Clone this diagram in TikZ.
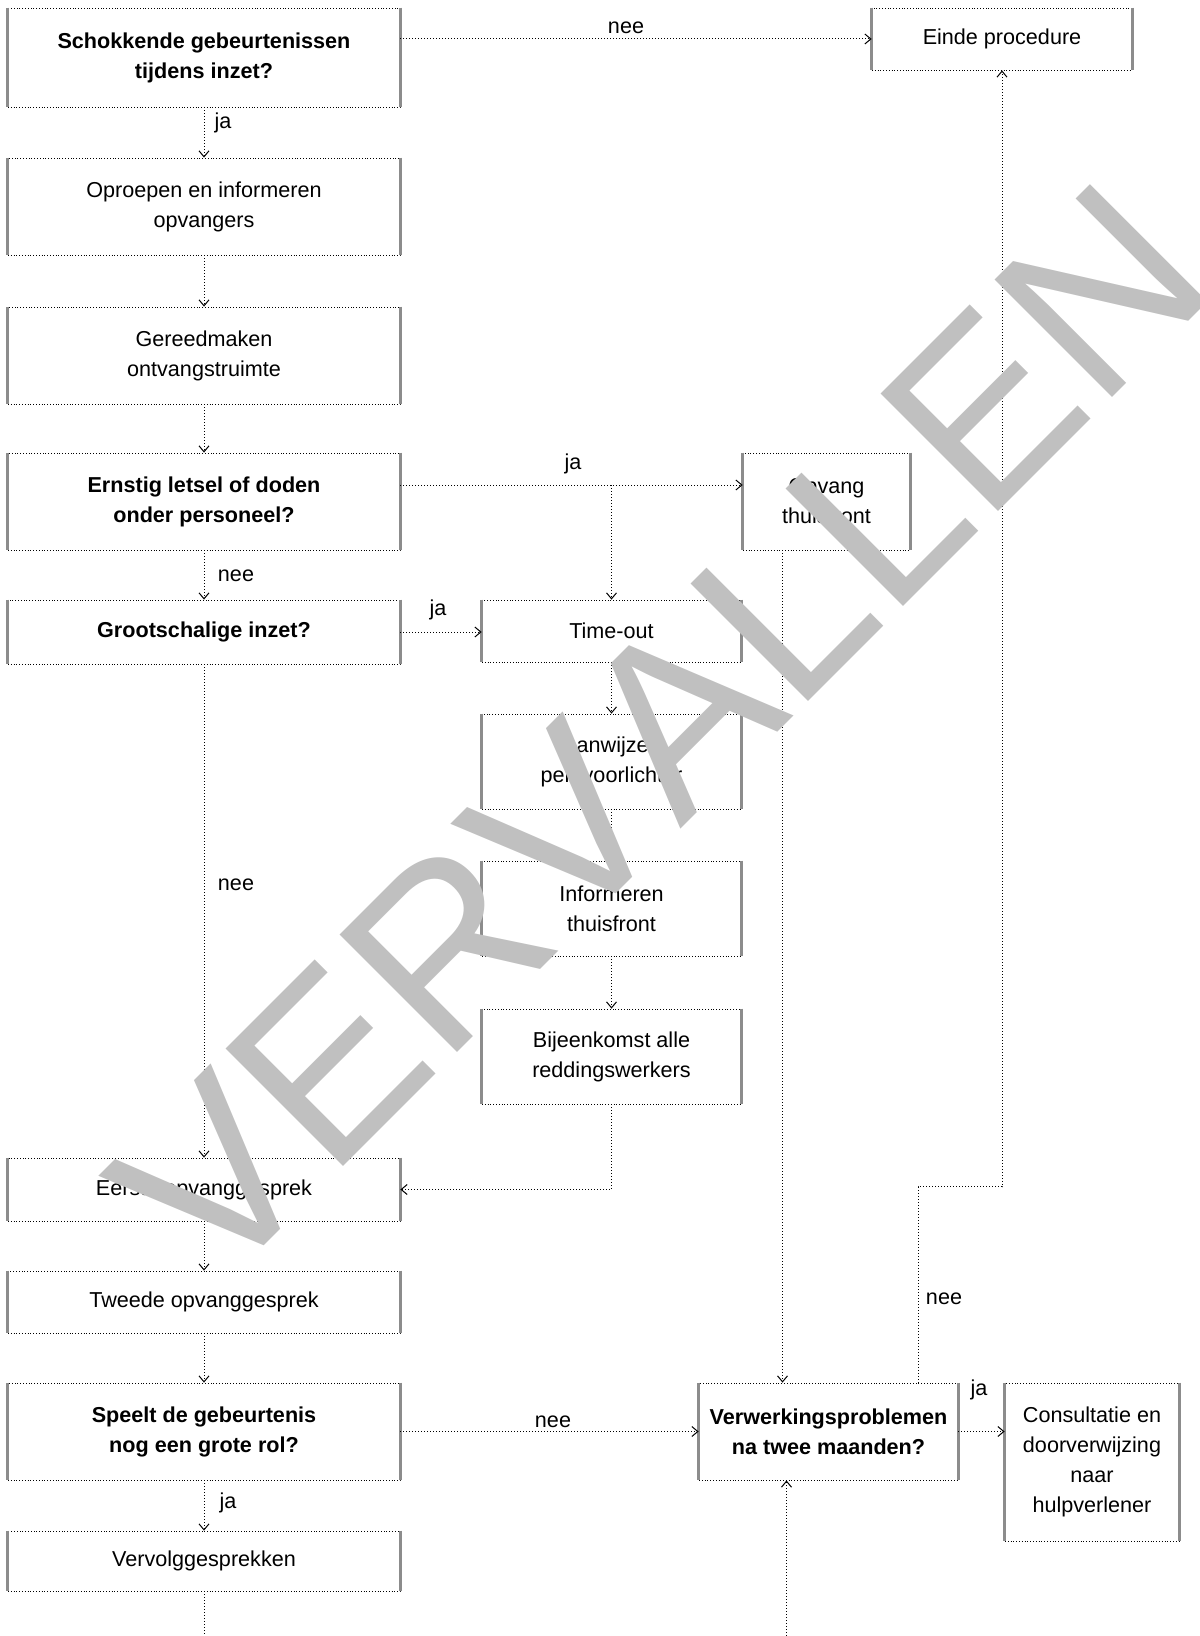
\documentclass[tikz,border=0pt]{standalone}
\usepackage{fontspec}
\setmainfont{Liberation Sans}
\newfontfamily\stempelfont{Liberation Sans}[Kerning=Off]
\usetikzlibrary{arrows.meta}
\definecolor{stempelgrijs}{HTML}{C0C0C0}
\begin{document}
\begin{tikzpicture}[x=0.5pt, y=-0.5pt]
  \tikzset{>={Straight Barb[length=3pt,width=5pt]},
    blok/.style 2 args={draw, densely dotted, line width=0.4pt, align=center,
      minimum width=#1, minimum height=#2, inner sep=0pt,
      font=\fontsize{10.8}{15}\selectfont},
    vraag/.style={font=\fontsize{10.8}{15}\selectfont\bfseries},
    zijkant/.style={line width=1.4pt, black!45},
    pijl/.style={->, densely dotted, line width=0.5pt},
    tekst/.style={inner sep=0pt, font=\fontsize{10.8}{15}\selectfont},
    stempel/.style={inner sep=0pt, text=stempelgrijs, font=\stempelfont\fontsize{120.75}{121}\selectfont}}
  \useasboundingbox (0,0) rectangle (1199,1636);
  \node[blok={196pt}{49.5pt}, vraag] (schok) at (204,57.5) {Schokkende gebeurtenissen\\tijdens inzet?};
  \node[blok={130pt}{31pt}] (einde) at (1002,39) {Einde procedure};
  \node[blok={196pt}{48.5pt}] (oproep) at (204,206.5) {Oproepen en informeren\\opvangers};
  \node[blok={196pt}{48.5pt}] (gereed) at (204,355.5) {Gereedmaken\\ontvangstruimte};
  \node[blok={196pt}{48.5pt}, vraag] (letsel) at (204,501.5) {Ernstig letsel of doden\\onder personeel?};
  \node[blok={83.5pt}{48.5pt}] (opvang) at (826.5,501.5) {Opvang\\thuisfront};
  \node[blok={196pt}{32pt}, vraag] (groot) at (204,632) {Grootschalige inzet?};
  \node[blok={129.5pt}{31pt}] (timeout) at (611.5,631) {Time-out};
  \node[blok={129.5pt}{47.5pt}] (pers) at (611.5,761.5) {Aanwijzen\\persvoorlichter};
  \node[blok={129.5pt}{47.5pt}] (infthuis) at (611.5,908.5) {Informeren\\thuisfront};
  \node[blok={129.5pt}{47.5pt}] (bijeen) at (611.5,1056.5) {Bijeenkomst alle\\reddingswerkers};
  \node[blok={196pt}{31.5pt}] (eerste) at (204,1189.5) {Eerste opvanggesprek};
  \node[blok={196pt}{31pt}] (tweede) at (204,1302) {Tweede opvanggesprek};
  \node[blok={196pt}{48.5pt}, vraag] (speelt) at (204,1431.5) {Speelt de gebeurtenis\\nog een grote rol?};
  \node[blok={129.5pt}{48.5pt}, vraag] (verwerk) at (828.5,1431.5) {Verwerkingsproblemen\\na twee maanden?};
  \node[blok={87pt}{79pt}] (consult) at (1092,1462) {Consultatie en\\doorverwijzing\\naar\\hulpverlener};
  \node[blok={196pt}{30pt}] (vervolg) at (204,1561) {Vervolggesprekken};
  \foreach \n in {schok,einde,oproep,gereed,letsel,opvang,groot,timeout,pers,
    infthuis,bijeen,eerste,tweede,speelt,verwerk,consult,vervolg}
    \draw[zijkant] (\n.north west) -- (\n.south west) (\n.north east) -- (\n.south east);

  \draw[pijl] (einde.west -| schok.east) -- (einde.west);
  \node[tekst] (nee1) at (626,28) {nee};
  \draw[pijl] (schok.south) -- (oproep.north);
  \node[tekst] (ja1) at (223,123) {ja};
  \draw[pijl] (oproep.south) -- (gereed.north);
  \draw[pijl] (gereed.south) -- (letsel.north);
  \draw[pijl] ([yshift=8.25pt]letsel.east) -- ([yshift=8.25pt]letsel.east -| opvang.west);
  \draw[pijl] ([yshift=8.25pt]letsel.east -| timeout.north) -- (timeout.north);
  \node[tekst] (ja2) at (573,464) {ja};
  \draw[pijl] (letsel.south) -- (groot.north);
  \node[tekst] (nee2) at (236,576) {nee};
  \draw[pijl] (groot.east) -- (groot.east -| timeout.west);
  \node[tekst] (ja3) at (438,610) {ja};
  \draw[pijl] (groot.south) -- (eerste.north);
  \node[tekst] (nee3) at (236,885) {nee};
  \draw[pijl] (timeout.south) -- (pers.north);
  \draw[pijl] (pers.south) -- (infthuis.north);
  \draw[pijl] (infthuis.south) -- (bijeen.north);
  \draw[pijl] (bijeen.south) |- (eerste.east);
  \draw[pijl] ([xshift=-22pt]opvang.south) -- ([xshift=-22pt]opvang.south |- verwerk.north);
  \draw[pijl] (eerste.south) -- (tweede.north);
  \draw[pijl] (tweede.south) -- (speelt.north);
  \draw[pijl] (speelt.east) -- (speelt.east -| verwerk.west);
  \node[tekst] (nee4) at (553,1422) {nee};
  \draw[pijl] (speelt.south) -- (vervolg.north);
  \node[tekst] (ja4) at (228,1503) {ja};
  \draw[pijl] (verwerk.east) -- (verwerk.east -| consult.west);
  \node[tekst] (ja5) at (979,1390) {ja};
  \draw[pijl] ([xshift=44.75pt]verwerk.north) -- ++(0,-196) -| (einde.south);
  \node[tekst] (nee5) at (944,1299) {nee};
  \draw[pijl] (vervolg.south) -- ++(0,70) -| ([xshift=-21pt]verwerk.south);

  \node[stempel, rotate=45, anchor=base] (vervallen) at (719,791) {VERVALLEN};
\end{tikzpicture}
\end{document}
